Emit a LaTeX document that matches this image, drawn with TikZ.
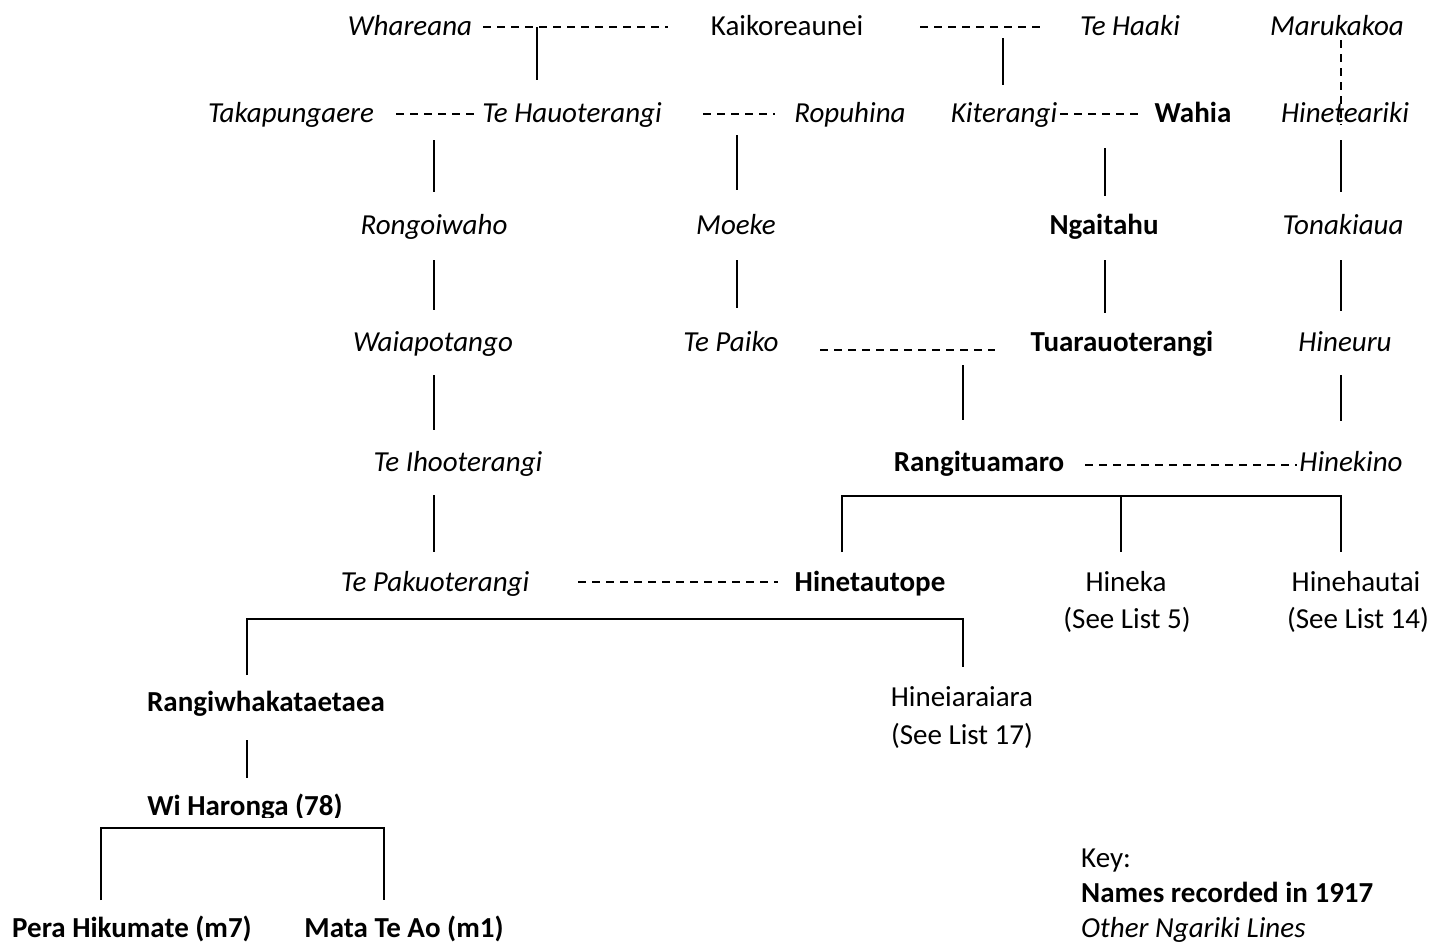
\documentclass[tikz,border=0pt]{standalone}
\usepackage{fontspec}
\setmainfont{Carlito}
\begin{document}
\begin{tikzpicture}[x=1pt,y=-1pt,
  nm/.style={inner sep=0pt,anchor=base,font=\fontsize{29}{35}\selectfont},
  other/.style={nm,font=\fontsize{29}{35}\selectfont\itshape},
  rec/.style={nm,font=\fontsize{29}{35}\selectfont\bfseries},
  plain/.style={nm},
  keyline/.style={inner sep=0pt,anchor=base west,font=\fontsize{29}{35}\selectfont},
  kin/.style={line width=1.6pt},
  union/.style={line width=1.6pt,dash pattern=on 8pt off 6pt},
]
\useasboundingbox (0,0) rectangle (1445,943);

% ---------- names ----------
\node[other] (whareana) at (410,35) {Whareana};
\node[plain] (kaiko) at (787,35) {Kaikoreaunei};
\node[other] (tehaaki) at (1130,35) {Te Haaki};
\node[other] (maruka) at (1337,35) {Marukakoa};

\node[other] (takapu) at (291,122) {Takapungaere};
\node[other] (tehauo) at (572,122) {Te Hauoterangi};
\node[other] (ropuhina) at (850,122) {Ropuhina};
\node[other] (kiterangi) at (1004,122) {Kiterangi};
\node[rec] (wahia) at (1193,122) {Wahia};
\node[other] (hinetea) at (1345,122) {Hineteariki};

\node[other] (rongoi) at (434,234) {Rongoiwaho};
\node[other] (moeke) at (736,234) {Moeke};
\node[rec] (ngaitahu) at (1104,234) {Ngaitahu};
\node[other] (tonaki) at (1343,234) {Tonakiaua};

\node[other] (waiapo) at (433,351) {Waiapotango};
\node[other] (tepaiko) at (731,351) {Te Paiko};
\node[rec] (tuarau) at (1122,351) {Tuarauoterangi};
\node[other] (hineuru) at (1345,351) {Hineuru};

\node[other] (teihoo) at (458,471) {Te Ihooterangi};
\node[rec] (rangitua) at (979,471) {Rangituamaro};
\node[other] (hinekino) at (1351,471) {Hinekino};

\node[other] (tepaku) at (435,591) {Te Pakuoterangi};
\node[rec] (hinetau) at (870,591) {Hinetautope};
\node[plain] (hineka) at (1126,591) {Hineka};
\node[plain] (hinekaref) at (1127,628) {(See List 5)};
\node[plain] (hinehau) at (1356,591) {Hinehautai};
\node[plain] (hinehauref) at (1358,628) {(See List 14)};

\node[rec] (rangiwha) at (266,711) {Rangiwhakataetaea};
\node[plain] (hineiara) at (962,706) {Hineiaraiara};
\node[plain] (hineiararef) at (962,744) {(See List 17)};

\begin{scope}
  \clip (0,0) rectangle (1445,817);
  \node[rec] (wiharonga) at (245,815) {Wi Haronga (78)};
\end{scope}

\node[rec] (pera) at (132,937) {Pera Hikumate (m7)};
\node[rec] (mata) at (404,937) {Mata Te Ao (m1)};

% ---------- key ----------
\node[keyline] (keyhead) at (1081,867) {Key:};
\node[keyline,font=\fontsize{29}{35}\selectfont\bfseries] (keyrec) at (1081,902) {Names recorded in 1917};
\node[keyline,font=\fontsize{29}{35}\selectfont\itshape] (keyother) at (1081,937) {Other Ngariki Lines};

% ---------- connector end points ----------
% unions
\coordinate (u1a) at (483,27);  \coordinate (u1b) at (668,27);
\coordinate (u2a) at (920,27);  \coordinate (u2b) at (1040,27);
\coordinate (u3a) at (396,114); \coordinate (u3b) at (474,114);
\coordinate (u4a) at (703,114); \coordinate (u4b) at (775,114);
\coordinate (u5a) at (1060,114);\coordinate (u5b) at (1140,114);
\coordinate (u6a) at (820,350); \coordinate (u6b) at (995,350);
\coordinate (u7a) at (1085,465);\coordinate (u7b) at (1297,465);
\coordinate (u8a) at (578,582); \coordinate (u8b) at (778,582);
\coordinate (u9a) at (1341,40); \coordinate (u9b) at (1341,125);
% descents
\coordinate (s1a) at (537,27);  \coordinate (s1b) at (537,80);
\coordinate (s2a) at (1003,38); \coordinate (s2b) at (1003,85);
\coordinate (s3a) at (434,140); \coordinate (s3b) at (434,192);
\coordinate (s4a) at (737,135); \coordinate (s4b) at (737,190);
\coordinate (s5a) at (1105,148);\coordinate (s5b) at (1105,196);
\coordinate (s6a) at (1341,140);\coordinate (s6b) at (1341,192);
\coordinate (s7a) at (434,260); \coordinate (s7b) at (434,310);
\coordinate (s8a) at (737,260); \coordinate (s8b) at (737,308);
\coordinate (s9a) at (1105,260);\coordinate (s9b) at (1105,313);
\coordinate (s10a) at (1341,260);\coordinate (s10b) at (1341,311);
\coordinate (s11a) at (434,375);\coordinate (s11b) at (434,430);
\coordinate (s12a) at (963,365);\coordinate (s12b) at (963,420);
\coordinate (s13a) at (1341,375);\coordinate (s13b) at (1341,421);
\coordinate (s14a) at (434,495);\coordinate (s14b) at (434,552);
\coordinate (s15a) at (247,740);\coordinate (s15b) at (247,778);
% sibling brackets
\coordinate (b1l) at (842,552); \coordinate (b1lt) at (842,496);
\coordinate (b1rt) at (1341,496); \coordinate (b1r) at (1341,552);
\coordinate (b1mt) at (1121,496); \coordinate (b1m) at (1121,552);
\coordinate (b2l) at (247,675); \coordinate (b2lt) at (247,619);
\coordinate (b2rt) at (963,619); \coordinate (b2r) at (963,667);
\coordinate (b3l) at (101,900); \coordinate (b3lt) at (101,828);
\coordinate (b3rt) at (384,828); \coordinate (b3r) at (384,900);

% ---------- unions (dashed) ----------
\foreach \u in {u1,u2,u3,u4,u5,u6,u7,u8,u9}
  \draw[union] (\u a) -- (\u b);

% ---------- descents (solid) ----------
\foreach \s in {s1,s2,s3,s4,s5,s6,s7,s8,s9,s10,s11,s12,s13,s14,s15}
  \draw[kin] (\s a) -- (\s b);

% ---------- sibling brackets ----------
\draw[kin] (b1l) -- (b1lt) -- (b1rt) -- (b1r);
\draw[kin] (b1mt) -- (b1m);
\draw[kin] (b2l) -- (b2lt) -- (b2rt) -- (b2r);
\draw[kin] (b3l) -- (b3lt) -- (b3rt) -- (b3r);
\end{tikzpicture}
\end{document}
